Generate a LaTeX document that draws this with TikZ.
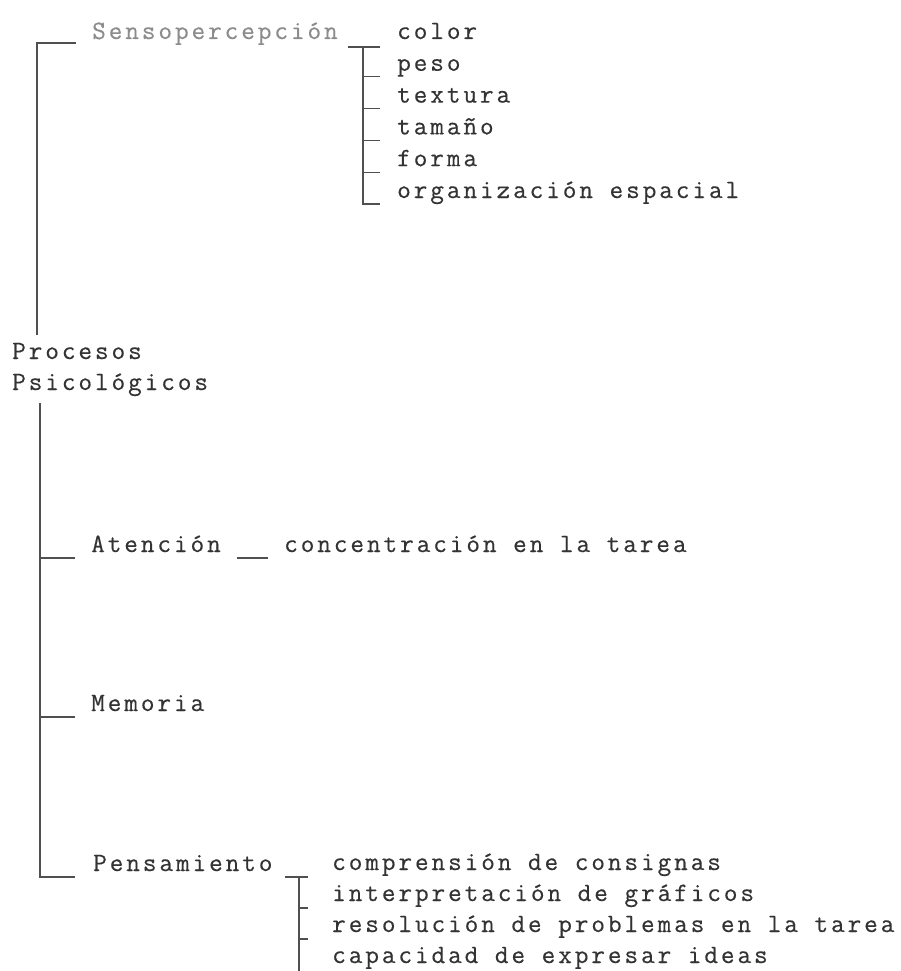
\documentclass[tikz,border=0pt]{standalone}
\usepackage{fontspec}
\setmonofont{Latin Modern Mono}[LetterSpace=11,FakeBold=0.35]
\definecolor{txt}{HTML}{333333}
\definecolor{txtl}{HTML}{8C8C8C}
\definecolor{ln}{HTML}{505050}
\begin{document}
\begin{tikzpicture}[x=1pt,y=-1pt, every node/.style={anchor=base west,inner sep=0pt,
font=\ttfamily\fontsize{26.5}{31.8}\selectfont,text=txt}, faint/.style={text=txtl},
conn/.style={draw=ln,line width=1.1pt}]
\useasboundingbox[fill=white] (0,0) rectangle (900,971);
\node[faint] (sen) at (92,39) {Sensopercepción};
\foreach \nm/\txt [count=\i from 0] in {color/color,peso/peso,textu/textura,tam/tamaño,form/forma,org/organización espacial}
  \node (\nm) at (397,39+31.8*\i) {\txt};
\node (proc) at (12,359) {Procesos};
\node (psic) at (12,390) {Psicológicos};
\node (aten) at (91,552) {Atención};
\node (conc) at (284,552) {concentración en la tarea};
\node (memo) at (91,711) {Memoria};
\node (pens) at (93,871) {Pensamiento};
\foreach \nm/\txt [count=\i from 0] in {comp/comprensión de consignas,inter/interpretación de gráficos,reso/resolución de problemas en la tarea,capa/capacidad de expresar ideas}
  \node (\nm) at (332,870+31*\i) {\txt};

\draw[conn] ([xshift=-16pt,yshift=-4pt]sen.base west) -| ([xshift=25pt,yshift=8pt]proc.north west);
\draw[conn] ([xshift=28pt,yshift=-13pt]psic.base west) |- ([xshift=-18pt,yshift=-6pt]pens.base west);
\foreach \nm in {aten,memo}
  \draw[conn] ([xshift=-16pt,yshift=-6pt]\nm.base west) -- ++(-35,0);
\draw[conn] ([xshift=-16pt,yshift=-6pt]conc.base west) -- ++(-31,0);

\draw[conn] ([xshift=-49pt,yshift=-8pt]color.base west) -- ++(32,0);
\draw[conn] ([xshift=-34pt,yshift=-8pt]color.base west) |- ([xshift=-17pt,yshift=-6pt]org.base west);
\foreach \nm in {peso,textu,tam,form}
  \draw[conn] ([xshift=-34pt,yshift=-6pt]\nm.base west) -- ++(17,0);

\draw[conn] ([xshift=-47pt,yshift=-7pt]comp.base west) -- ++(23,0);
\draw[conn] ([xshift=-33pt,yshift=-7pt]comp.base west) -- ++(0,94);
\foreach \nm in {inter,reso}
  \draw[conn] ([xshift=-33pt,yshift=-7pt]\nm.base west) -- ++(9,0);
\end{tikzpicture}
\end{document}
